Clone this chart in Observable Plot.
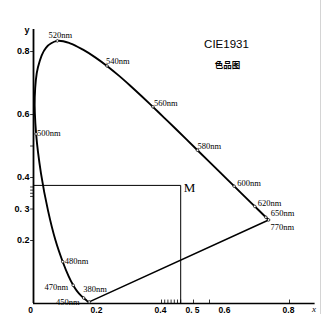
<!DOCTYPE html>
<html>
<head>
<meta charset="utf-8">
<script src="https://cdn.jsdelivr.net/npm/d3@7"></script>
<script src="https://cdn.jsdelivr.net/npm/@observablehq/plot@0.6"></script>
<style>
  html, body { margin: 0; padding: 0; background: #fff; }
  #chart { width: 324px; height: 314px; position: relative; }
  #chart::after { content: ""; position: absolute; left: 320px; top: 0; width: 1px; height: 314px; background: #d4d4d4; }
</style>
</head>
<body>
<div id="chart"></div>
<script>
// Spectral locus (wavelength nm, chromaticity x, y)
const wavelengths = [380,400,420,430,440,450,455,460,465,470,475,480,485,490,495,500,505,510,515,520,525,530,535,540,545,550,555,560,565,570,575,580,585,590,595,600,605,610,615,620,625,630,640,650,660,680,770];
const locusX = [0.1741,0.1733,0.1714,0.1689,0.1644,0.1566,0.1510,0.1440,0.1355,0.1241,0.1096,0.0913,0.0687,0.0454,0.0235,0.0082,0.0039,0.0139,0.0389,0.0743,0.1142,0.1547,0.1929,0.2296,0.2658,0.3016,0.3373,0.3731,0.4087,0.4441,0.4788,0.5125,0.5448,0.5752,0.6029,0.6270,0.6482,0.6658,0.6801,0.6915,0.7006,0.7079,0.7190,0.7260,0.7300,0.7334,0.7347];
const locusY = [0.0050,0.0048,0.0051,0.0069,0.0109,0.0177,0.0227,0.0297,0.0399,0.0578,0.0868,0.1327,0.2007,0.2950,0.4127,0.5384,0.6548,0.7502,0.8120,0.8338,0.8262,0.8059,0.7816,0.7543,0.7243,0.6923,0.6589,0.6245,0.5896,0.5547,0.5202,0.4866,0.4544,0.4242,0.3965,0.3725,0.3514,0.3340,0.3197,0.3083,0.2993,0.2920,0.2809,0.2740,0.2700,0.2666,0.2653];
const labeledNm = [380,450,470,480,500,520,540,560,580,600,620,650,770];

const xTicks = [0.2,0.4,0.5,0.6,0.8];
const xTickLabels = ["0.2","0.4","0. 5","0.6","0.8"];
const xMinorTicks = [0.4,0.41,0.42,0.43,0.44,0.45,0.46,0.5,0.55,0.8];
const yTicks = [0.2,0.3,0.4,0.6,0.8];
const yTickLabels = ["0.2","0. 3","0.4","0.6","0.8"];
const yMinorTicks = [0.2,0.3,0.34,0.35,0.36,0.37,0.4,0.5,0.6,0.8];

const pointM = [0.46, 0.375];
const titleText = "CIE1931";
const subtitleText = "色品图";

const locus = wavelengths.map((nm, i) => ({nm, x: locusX[i], y: locusY[i]}));
const byNm = new Map(locus.map(d => [d.nm, d]));
const purpleLine = [byNm.get(380), byNm.get(770)];
const mPath = [{x: 0, y: pointM[1]}, {x: pointM[0], y: pointM[1]}, {x: pointM[0], y: 0}];

// label placement (pixel offsets from the locus point)
const place = {
  380: [-6, -13, "start"], 450: [-4, 4, "end"], 470: [-5, 2, "end"], 480: [2, 0, "start"],
  500: [1, -1, "start"], 520: [3, -6, "middle"], 540: [-1, -5, "start"], 560: [1, -4, "start"],
  580: [0, -4, "start"], 600: [3, -3, "start"], 620: [3, -3, "start"], 650: [5, -4, "start"],
  770: [2, 7, "start"]
};
const serif = "'Liberation Serif', 'DejaVu Serif', serif";
const sans = "'Liberation Sans', Arial, sans-serif";

const labelMarks = labeledNm.map(nm => {
  const [dx, dy, anchor] = place[nm];
  return Plot.text([byNm.get(nm)], {x: "x", y: "y", text: d => d.nm + "nm", dx, dy,
    textAnchor: anchor, fontSize: 8.5, fontFamily: serif, fill: "black"});
});

const chart = Plot.plot({
  width: 324,
  height: 314,
  marginLeft: 33,
  marginRight: 9.4,
  marginTop: 29,
  marginBottom: 11,
  x: {domain: [0, 0.88], axis: null},
  y: {domain: [0, 0.87], axis: null},
  style: {background: "white", overflow: "visible"},
  marks: [
    // axes
    Plot.ruleY([0], {stroke: "black", strokeWidth: 1.5}),
    Plot.ruleX([0], {stroke: "black", strokeWidth: 1.8}),
    Plot.ruleX(xMinorTicks, {x: d => d, y1: 0, y2: 0.011, stroke: "black", strokeWidth: 0.8}),
    Plot.ruleY(yMinorTicks, {y: d => d, x1: -0.009, x2: 0, stroke: "black", strokeWidth: 0.8}),
    Plot.text(xTicks, {x: d => d, y: 0, text: (d, i) => xTickLabels[i], dy: 6.5, dx: -1, fontSize: 8.5, fontWeight: "bold", fontFamily: sans}),
    Plot.text([0], {x: 0, y: 0, text: () => "0", dy: 6.5, dx: -3, fontSize: 8.5, fontWeight: "bold", fontFamily: sans}),
    Plot.text(yTicks, {x: 0, y: d => d, text: (d, i) => yTickLabels[i], dx: -4, textAnchor: "end", fontSize: 9, fontWeight: "bold", fontFamily: sans}),
    Plot.text([0], {x: 0, y: 0.87, text: () => "y", dx: -4, dy: 1, textAnchor: "end", fontSize: 9, fontWeight: "bold", fontFamily: sans}),
    Plot.text([0], {x: 0.88, y: 0, text: () => "x", dx: -1, dy: 6, fontSize: 9, fontStyle: "italic", fontFamily: serif}),
    // M construction
    Plot.line(mPath, {x: "x", y: "y", stroke: "black", strokeWidth: 1}),
    Plot.text([pointM], {x: d => d[0], y: d => d[1], text: () => "M", dx: 3, dy: 2, textAnchor: "start", fontSize: 13, fontFamily: serif}),
    // purple line and locus
    Plot.line(purpleLine, {x: "x", y: "y", stroke: "black", strokeWidth: 1.5}),
    Plot.line(locus, {x: "x", y: "y", curve: "catmull-rom", stroke: "black", strokeWidth: 1.9}),
    Plot.dot(labeledNm.map(nm => byNm.get(nm)), {x: "x", y: "y", r: 1.3, fill: "white", stroke: "black", strokeWidth: 0.7}),
    ...labelMarks,
    // title
    Plot.text([titleText], {x: 0.603, y: 0.822, text: d => d, fontSize: 11.5, fontFamily: sans}),
    Plot.text([subtitleText], {x: 0.606, y: 0.756, text: d => d, fontSize: 8.5, fontWeight: "bold", fontFamily: "'Noto Sans CJK SC', sans-serif"})
  ]
});
document.getElementById("chart").appendChild(chart);
</script>
</body>
</html>
